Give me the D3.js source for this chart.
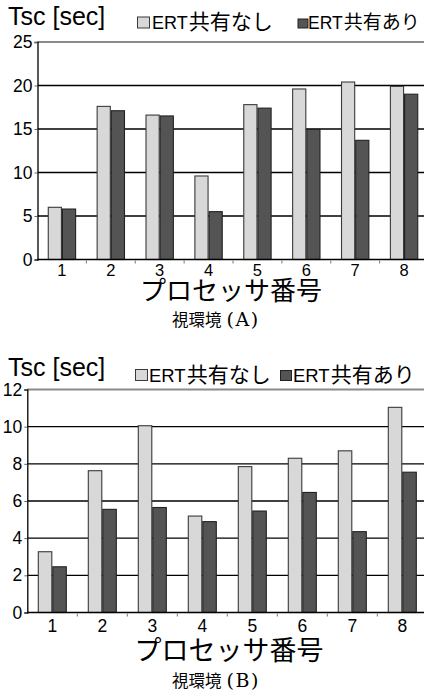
<!DOCTYPE html>
<html>
<head>
<meta charset="utf-8">
<script src="https://cdn.jsdelivr.net/npm/d3@7"></script>
<style>
  html, body { margin: 0; padding: 0; background: #fff; }
  svg { display: block; }
</style>
</head>
<body>
<svg id="fig" width="424" height="696"></svg>
<script>
// Processor numbers shared by both panels
const processors = ["1", "2", "3", "4", "5", "6", "7", "8"];
const seriesNames = ["ERT共有なし", "ERT共有あり"];

// Panel (A): Tsc per processor, without / with ERT sharing
const tscA_noShare = [6.0, 17.6, 16.6, 9.6, 17.8, 19.6, 20.4, 19.9];
const tscA_share   = [5.8, 17.1, 16.5, 5.5, 17.4, 14.95, 13.7, 19.0];
const ticksA = [0, 5, 10, 15, 20, 25];

// Panel (B)
const tscB_noShare = [3.27, 7.63, 10.05, 5.19, 7.85, 8.3, 8.7, 11.04];
const tscB_share   = [2.46, 5.55, 5.65, 4.89, 5.46, 6.46, 4.35, 7.55];
const ticksB = [0, 2, 4, 6, 8, 10, 12];

const fills = ["#d8d8d8", "#545454"];
const strokes = ["#3a3a3a", "#222"];
const latin = "'Liberation Sans', Arial, sans-serif";
const cjk = "'Noto Sans CJK JP', 'Liberation Sans', sans-serif";
const serif = "'DejaVu Serif', 'Liberation Serif', serif";

const svg = d3.select("#fig");

function panel(o) {
  const g = svg.append("g");
  const x = d3.scaleBand().domain(processors).range([o.left, o.right]);
  const bw = x.bandwidth();
  const xs = d3.scaleBand().domain(seriesNames).range([0.21 * bw, 0.79 * bw]);
  const y = d3.scaleLinear().domain([0, o.ticks[o.ticks.length - 1]]).range([o.bottom, o.top]);

  // horizontal grid
  g.append("g").selectAll("line")
    .data(o.ticks.slice(1, -1))
    .join("line")
    .attr("x1", o.left).attr("x2", 424)
    .attr("y1", d => y(d)).attr("y2", d => y(d))
    .attr("stroke", "#000").attr("stroke-width", 1.4);
  // upper frame line
  g.append("line")
    .attr("x1", o.left).attr("x2", 424)
    .attr("y1", y(o.ticks[o.ticks.length - 1])).attr("y2", y(o.ticks[o.ticks.length - 1]))
    .attr("stroke", "#8a8a8a").attr("stroke-width", 1.8);

  // bars
  const rows = processors.map((p, i) => ({ p, vals: [o.a[i], o.b[i]] }));
  g.append("g").selectAll("g")
    .data(rows)
    .join("g")
    .attr("transform", d => `translate(${x(d.p)},0)`)
    .selectAll("rect")
    .data(d => d.vals.map((v, k) => ({ v, k })))
    .join("rect")
    .attr("x", d => xs(seriesNames[d.k]) + 0.5)
    .attr("width", xs.bandwidth() - 1)
    .attr("y", d => y(d.v))
    .attr("height", d => y(0) - y(d.v))
    .attr("fill", d => fills[d.k])
    .attr("stroke", d => strokes[d.k])
    .attr("stroke-width", 1.1);

  // y axis
  const ya = d3.axisLeft(y).tickValues(o.ticks).tickSize(3).tickPadding(2);
  const yg = g.append("g").attr("transform", `translate(${o.left},0)`).call(ya);
  yg.select(".domain").attr("stroke", "#000").attr("stroke-width", 1.3);
  yg.selectAll(".tick line").attr("stroke", "#666");
  yg.selectAll("text").attr("font-family", latin).attr("font-size", 17.5).attr("fill", "#000");

  // x axis
  const xa = d3.axisBottom(x).tickSize(0).tickPadding(4);
  const xg = g.append("g").attr("transform", `translate(0,${o.bottom})`).call(xa);
  xg.select(".domain").remove();
  xg.append("line").attr("x1", o.left).attr("x2", 424).attr("stroke", "#000").attr("stroke-width", 1.6);
  xg.selectAll(".tick text").attr("font-family", latin).attr("font-size", o.xLabelSize).attr("fill", "#000")
    .attr("dy", null).attr("y", o.xLabelDy);
  // boundary tick marks
  xg.append("g").selectAll("line")
    .data(processors.slice(1))
    .join("line")
    .attr("x1", d => x(d)).attr("x2", d => x(d))
    .attr("y1", 1).attr("y2", 4)
    .attr("stroke", "#777").attr("stroke-width", 1);

  // axis titles
  g.append("text").attr("x", 8).attr("y", o.titleY)
    .attr("font-family", latin).attr("font-size", 25).text("Tsc [sec]");
  g.append("text").attr("x", o.xTitleX).attr("y", o.xTitleY).attr("text-anchor", "middle")
    .attr("font-family", cjk).attr("font-size", o.xTitleSize).text("プロセッサ番号");

  // legend
  o.legend.forEach((L, k) => {
    g.append("rect").attr("x", L.sx).attr("y", o.legendY - L.sq).attr("width", L.sq).attr("height", L.sq - 1)
      .attr("fill", fills[k]).attr("stroke", strokes[k]).attr("stroke-width", 1);
    const t = g.append("text").attr("x", L.tx).attr("y", o.legendY);
    t.append("tspan").attr("font-family", latin).attr("font-size", L.latin).text(seriesNames[k].slice(0, 3));
    t.append("tspan").attr("font-family", cjk).attr("font-size", L.cjk).attr("dx", 1).text(seriesNames[k].slice(3));
  });

  // caption
  const cap = g.append("text").attr("x", 172).attr("y", o.capY);
  cap.append("tspan").attr("font-family", cjk).attr("font-size", 16.5).text("視環境");
  cap.append("tspan").attr("font-family", serif).attr("font-size", 19).attr("dx", 5)
    .attr("letter-spacing", 1.5).text(o.capTag);
}

panel({
  left: 37.5, right: 428.5, top: 42, bottom: 259.5,
  ticks: ticksA, a: tscA_noShare, b: tscA_share,
  titleY: 25, legendY: 29,
  legend: [
    { sx: 137.5, tx: 152, sq: 12, latin: 18, cjk: 21 },
    { sx: 298, tx: 308, sq: 10, latin: 17.5, cjk: 19 }
  ],
  xLabelSize: 16.5, xLabelDy: 16,
  xTitleX: 231, xTitleY: 300, xTitleSize: 26, capY: 326
  , capTag: "(A)"
});

panel({
  left: 27.3, right: 427.3, top: 389.5, bottom: 612.5,
  ticks: ticksB, a: tscB_noShare, b: tscB_share,
  titleY: 376, legendY: 381.5,
  legend: [
    { sx: 135.5, tx: 149, sq: 12, latin: 18.5, cjk: 21 },
    { sx: 280.5, tx: 293, sq: 11, latin: 18.5, cjk: 21 }
  ],
  xLabelSize: 17.5, xLabelDy: 19.5,
  xTitleX: 229, xTitleY: 660, xTitleSize: 27, capY: 687, capTag: "(B)"
});
</script>
</body>
</html>
